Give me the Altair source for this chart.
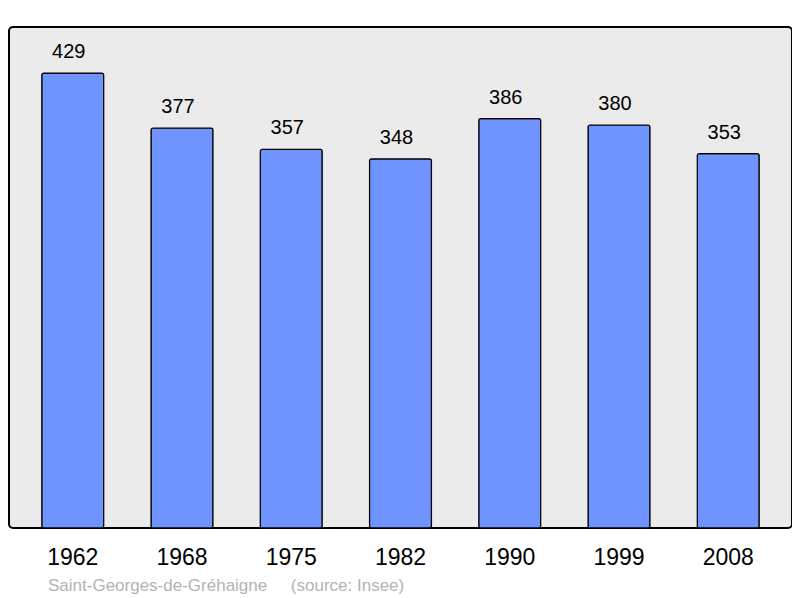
import altair as alt
import pandas as pd

years = ["1962", "1968", "1975", "1982", "1990", "1999", "2008"]
population = [429, 377, 357, 348, 386, 380, 353]
source_text = "Saint-Georges-de-Gréhaigne\u00a0\u00a0\u00a0\u00a0 (source: Insee)"

df = pd.DataFrame({"year": years, "pop": population})

font = "Liberation Sans"

base = alt.Chart(df).encode(
    x=alt.X("year:N", sort=years,
            scale=alt.Scale(paddingInner=0.433, paddingOuter=0.3),
            axis=alt.Axis(title=None, labelAngle=0, domain=False, ticks=False,
                          labelFont=font, labelFontSize=23, labelColor="black",
                          labelBaseline="alphabetic", labelPadding=36)),
    y=alt.Y("pop:Q", scale=alt.Scale(domain=[0, 472.4], nice=False, zero=True),
            axis=None),
)

bars = base.mark_bar(color="#7094ff", stroke="black", strokeWidth=1.2, cornerRadius=2)
labels = base.mark_text(baseline="alphabetic", dy=-15, dx=-4, font=font, fontSize=20,
                        color="black").encode(text="pop:Q")

chart = (bars + labels).properties(
    width=783, height=501,
    title=alt.TitleParams(source_text, orient="bottom", anchor="start", dx=39,
                          offset=22, font=font, fontSize=17, fontWeight="normal",
                          color="#b3b3b3", baseline="alphabetic"),
    autosize=alt.AutoSizeParams(type="none"),
    padding={"left": 1, "top": 19, "right": 0, "bottom": 70},
).configure_view(
    fill="#ebebeb", stroke="black", strokeWidth=2, cornerRadius=4
)

chart.save("out.html", embed_options={"renderer": "svg", "actions": False})
